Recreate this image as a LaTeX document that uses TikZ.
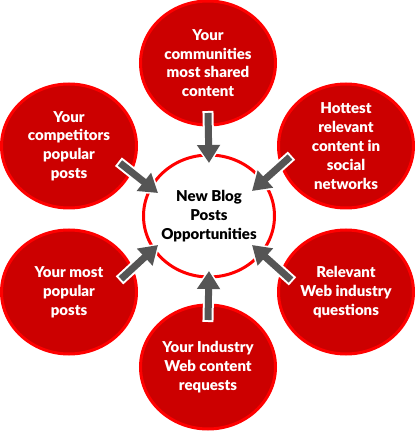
\documentclass[tikz,border=0pt]{standalone}
\usepackage{fontspec}
\setmainfont{Lato}
\newfontfamily\heavyfont{Lato Black}
\usetikzlibrary{shapes.geometric, arrows.meta, calc}
\definecolor{BubbleRed}{HTML}{CC0000}
\definecolor{RimRed}{HTML}{FF0000}
\definecolor{ArrowGray}{HTML}{555555}

\begin{document}
\begin{tikzpicture}[
  x=1pt, y=1pt,
  bubble/.style={ellipse, fill=BubbleRed, draw=RimRed, line width=3pt,
    minimum width=135pt, minimum height=124pt, inner sep=0pt},
  hubstyle/.style={ellipse, fill=white, draw=RimRed, line width=3pt,
    minimum width=131pt, minimum height=122pt, inner sep=0pt},
  caption/.style={text=white, align=center,
    font=\fontsize{15}{18.8}\selectfont\heavyfont},
  hubcaption/.style={caption, text=black},
  pointer/.style={line width=7pt, draw=ArrowGray,
    -{Triangle[width=22pt, length=18pt]},
    preaction={draw=white, line width=11pt,
      -{Triangle[width=28pt, length=22pt]},
      shorten >=-2.5pt, shorten <=-2pt}}
]
\useasboundingbox (0,0) rectangle (415,432);

\node[bubble, label={[caption]center:Your\\communities\\most shared\\content}]
  (shared) at (208,369) {};
\node[bubble, label={[caption]center:Your\\competitors\\popular\\posts}]
  (rivals) at (69,286) {};
\node[bubble, label={[caption]center:Hottest\\relevant\\content in\\social\\networks}]
  (hottest) at (346,286) {};
\node[bubble, label={[caption]center:Your most\\popular\\posts}]
  (popular) at (69,140) {};
\node[bubble, label={[caption]center:Relevant\\Web industry\\questions}]
  (questions) at (346,140) {};
\node[bubble, label={[caption]center:Your Industry\\Web content\\requests}]
  (requests) at (208,65) {};

\node[hubstyle, label={[hubcaption]center:New Blog\\Posts\\Opportunities}]
  (hub) at (209,216) {};

% Arrows
\draw[pointer] ($(shared)+(0,-50)$) -- ($(hub)+(0,53)$);
\draw[pointer] ($(rivals)+(51,-17)$) -- ($(hub)+(-51,23)$);
\draw[pointer] ($(hottest)+(-56,-11)$) -- ($(hub)+(43,25)$);
\draw[pointer] ($(popular)+(52,13)$) -- ($(hub)+(-51,-29)$);
\draw[pointer] ($(questions)+(-55,12)$) -- ($(hub)+(43,-29)$);
\draw[pointer] ($(requests)+(0,47)$) -- ($(hub)+(0,-55)$);

\end{tikzpicture}
\end{document}
